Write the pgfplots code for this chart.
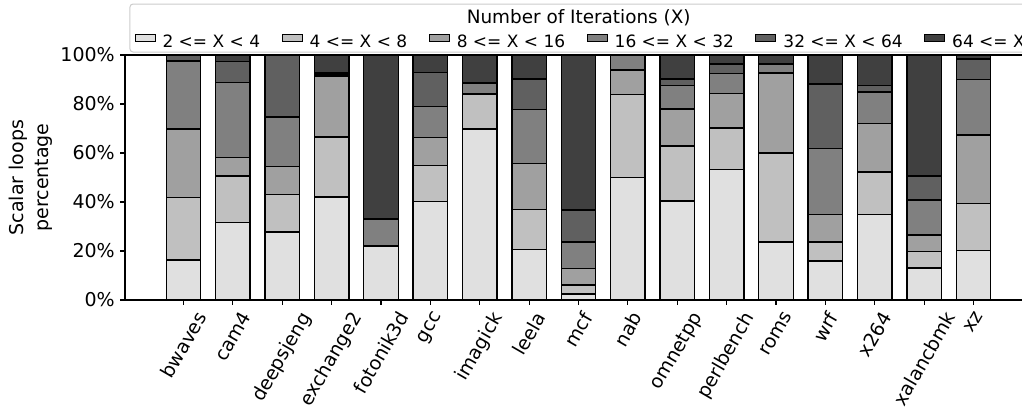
\documentclass[border=0pt]{standalone}
\usepackage{fontspec}
\setmainfont{DejaVu Sans}
\usepackage{graphicx}
\usepackage{pgfplots}
\usepackage{pgfplotstable}
\pgfplotsset{compat=1.18}
\definecolor{c1}{HTML}{E0E0E0}
\definecolor{c2}{HTML}{C0C0C0}
\definecolor{c3}{HTML}{A0A0A0}
\definecolor{c4}{HTML}{808080}
\definecolor{c5}{HTML}{606060}
\definecolor{c6}{HTML}{404040}
\definecolor{legframe}{HTML}{CCCCCC}
\pgfplotstableread{
x a b c d e f
0 16.3 25.6 27.9 27.8 2.4 0
1 31.6 19.0 7.5 30.8 8.4 2.7
2 27.8 15.3 11.3 20.3 25.3 0
3 42.0 24.5 24.9 0.9 0.5 7.2
4 22.0 0 0 11.1 0 66.9
5 40.1 14.7 11.6 12.7 13.8 7.1
6 69.8 14.3 0 4.5 0 11.4
7 20.7 16.3 18.6 22.1 12.5 9.8
8 2.4 3.7 6.7 10.9 13.0 63.3
9 49.9 34.1 9.9 6.1 0 0
10 40.4 22.5 15.1 9.6 2.6 9.8
11 53.3 16.9 14.0 8.2 3.9 3.7
12 23.6 36.4 32.7 3.6 0 3.7
13 16.0 7.7 11.3 26.9 26.3 11.8
14 34.8 17.4 19.8 12.9 2.6 12.5
15 13.1 6.8 6.6 14.4 9.7 49.4
16 20.1 19.2 28.0 22.8 8.3 1.6
}\data
\begin{document}
\begin{tikzpicture}
\draw[legframe, line width=0.5pt, fill=white, rounded corners=1.5pt] (2.5pt,124pt) rectangle (451pt,148pt);
\begin{axis}[
  scale only axis, width=453.5pt, height=122.5pt,
  ybar stacked, bar width=0.7,
  xmin=-1.185, xmax=17.185, ymin=0, ymax=100,
  xtick={0,...,16},
  xticklabels={\rotatebox{60}{bwaves},\rotatebox{60}{cam4},\rotatebox{60}{deepsjeng},\rotatebox{60}{exchange2},\rotatebox{60}{fotonik3d},\rotatebox{60}{gcc},\rotatebox{60}{imagick},\rotatebox{60}{leela},\rotatebox{60}{mcf},\rotatebox{60}{nab},\rotatebox{60}{omnetpp},\rotatebox{60}{perlbench},\rotatebox{60}{roms},\rotatebox{60}{wrf},\rotatebox{60}{x264},\rotatebox{60}{xalancbmk},\rotatebox{60}{xz}},
  ytick={0,20,...,100},
  yticklabel={\pgfmathprintnumber{\tick}\%},
  /pgf/number format/assume math mode=true,
  tick align=outside, major tick length=2.45pt,
  xtick pos=left, ytick pos=left,
  tick style={black, line width=0.55pt},
  axis line style={line width=0.55pt},
  tick label style={font=\fontsize{9.5}{11}\selectfont, inner sep=0pt},
  xticklabel style={anchor=north, yshift=-2.45pt},
  yticklabel style={anchor=east, xshift=-2.45pt},
  ylabel={Scalar loops\\percentage},
  ylabel style={align=center, font=\fontsize{9.5}{12.5}\selectfont, at={(axis description cs:-0.1042,0.5)}, anchor=center},
  legend columns=6,
  legend style={draw=none, fill=none, inner sep=0pt, outer sep=0pt,
    at={(axis description cs:0.0105,1.0873)}, anchor=north west,
    nodes={inner sep=0pt, font=\fontsize{8.5}{10}\selectfont},
    /tikz/every odd column/.append style={column sep=3.5pt},
    /tikz/every even column/.append style={column sep=10.75pt}},
  legend image code/.code={\draw[#1, draw=black, line width=0.5pt] (0pt,0.6pt) rectangle (10pt,4.1pt);},
]
\addplot[fill=c1, draw=black, line width=0.7pt] table[x=x, y=a] {\data};
\addplot[fill=c2, draw=black, line width=0.7pt] table[x=x, y=b] {\data};
\addplot[fill=c3, draw=black, line width=0.7pt] table[x=x, y=c] {\data};
\addplot[fill=c4, draw=black, line width=0.7pt] table[x=x, y=d] {\data};
\addplot[fill=c5, draw=black, line width=0.7pt] table[x=x, y=e] {\data};
\addplot[fill=c6, draw=black, line width=0.7pt] table[x=x, y=f] {\data};
\legend{2 <= X < 4, 4 <= X < 8, 8 <= X < 16, 16 <= X < 32, 32 <= X < 64, 64 <= X}
\end{axis}
\node[anchor=base, font=\fontsize{9.2}{11}\selectfont, inner sep=0pt] at (226.85pt,138.2pt) {Number of Iterations (X)};
\pgfresetboundingbox
\useasboundingbox (-62.5pt,-57pt) rectangle (448.5pt,150pt);
\end{tikzpicture}
\end{document}
